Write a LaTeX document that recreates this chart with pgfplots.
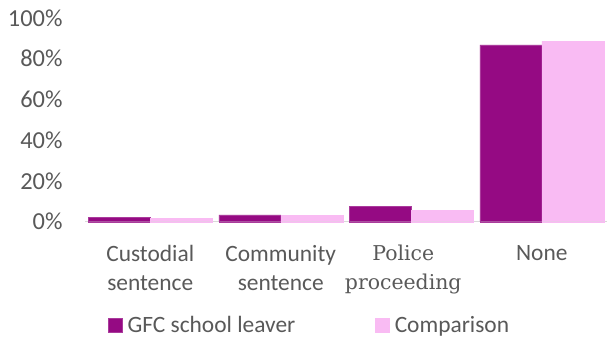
\documentclass[border=0pt]{standalone}
\usepackage{fontspec}
\setmainfont{Carlito}
\newfontfamily\serifalt{DejaVu Serif}
\usepackage{pgfplots}
\pgfplotsset{compat=1.18}
\definecolor{gfc}{HTML}{950A83}
\definecolor{comp}{HTML}{F9BBF3}
\definecolor{txt}{HTML}{595959}
\begin{document}
\begin{tikzpicture}
\useasboundingbox (0,0) rectangle (607bp,342bp);
\begin{axis}[
  at={(85bp,120.3bp)}, anchor=south west,
  scale only axis, width=522bp, height=203.7bp,
  ybar, bar width=62bp,
  xmin=-0.5, xmax=3.5, ymin=0, ymax=100,
  xtick=data,
  xticklabels={{Custodial\\sentence},{Community\\sentence},{\fontsize{20.5}{29}\serifalt Police\hspace*{16bp}\\\fontsize{20.5}{29}\serifalt proceeding\hspace*{16bp}},{None}},
  ytick={0,20,40,60,80,100},
  yticklabel={\pgfmathprintnumber{\tick}\%},
  /pgf/number format/assume math mode=true,
  axis x line*=bottom,
  axis y line*=left,
  y axis line style={draw=none},
  x axis line style={draw=black!15, line width=1.2bp, -},
  tick style={draw=none},
  xticklabel style={font=\fontsize{23.5}{29}\selectfont, text=txt, align=center, yshift=-16bp},
  yticklabel style={font=\fontsize{24.5}{29}\selectfont, text=txt, xshift=-19bp},
  legend style={draw=none, at={(0.044,-0.507)}, anchor=west, legend columns=2,
    font=\fontsize{23.5}{24}\selectfont, text=txt, inner sep=0pt,
    /tikz/every even column/.append style={column sep=78bp}},
  legend image code/.code={\fill[#1] (0bp,-7bp) rectangle (14bp,7bp);},
  legend cell align=left,
  clip=false,
]
\addplot[fill=gfc, draw=gfc!80!white, bar shift=-31bp] coordinates {(0,2.0) (1,3.3) (2,7.7) (3,86.8)};
\addplot[fill=comp, draw=comp, bar shift=31bp] coordinates {(0,1.8) (1,3.0) (2,5.7) (3,88.7)};
\legend{\hspace{3bp}GFC school leaver, \hspace{3bp}Comparison}
\end{axis}
\end{tikzpicture}
\end{document}
